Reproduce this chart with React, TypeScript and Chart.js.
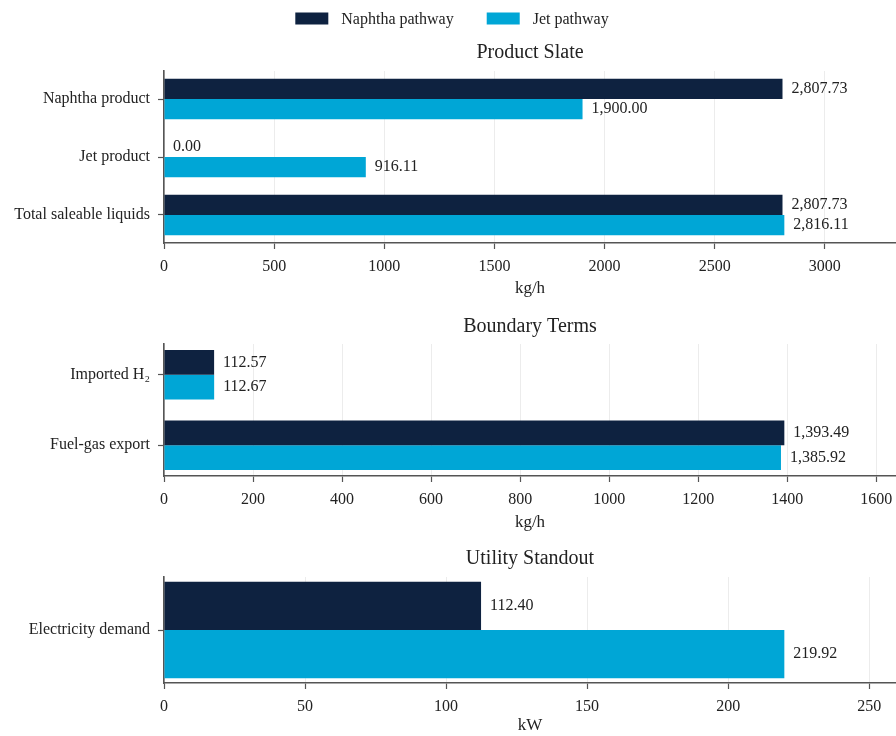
import React, { useEffect, useRef } from "react";
import { Chart, registerables } from "chart.js";

Chart.register(...registerables);

// ---------------- data ----------------
const seriesNames = ["Naphtha pathway", "Jet pathway"];
const seriesColors = ["#0e2240", "#00a6d6"];

const productCategories = ["Naphtha product", "Jet product", "Total saleable liquids"];
const productNaphtha = [2807.73, 0.0, 2807.73];
const productJet = [1900.0, 916.11, 2816.11];

const boundaryCategories = ["Imported H₂", "Fuel-gas export"];
const boundaryNaphtha = [112.57, 1393.49];
const boundaryJet = [112.67, 1385.92];

const utilityCategories = ["Electricity demand"];
const utilityNaphtha = [112.4];
const utilityJet = [219.92];

const panelTitles = ["Product Slate", "Boundary Terms", "Utility Standout"];
const panelUnits = ["kg/h", "kg/h", "kW"];
const panelSteps = [500, 200, 50];

// ---------------- styling / layout ----------------
const FONT = '"Liberation Serif", "Times New Roman", serif';
const TEXT = "#222222";
const AXIS = "#555555";
const GRID = "#ececec";

type Layout = {
  top: number;
  height: number;
  padTop: number;
  titlePad: { top: number; bottom: number };
  axisH: number;
  axisTitlePadBottom: number;
  legend: boolean;
};

const layouts: Layout[] = [
  { top: 0, height: 300, padTop: 37, titlePad: { top: 4, bottom: 6 }, axisH: 57, axisTitlePadBottom: 1, legend: true },
  { top: 300, height: 233, padTop: 11, titlePad: { top: 4, bottom: 5 }, axisH: 57, axisTitlePadBottom: 0, legend: false },
  { top: 533, height: 203, padTop: 10, titlePad: { top: 4, bottom: 6 }, axisH: 53, axisTitlePadBottom: 0, legend: false },
];

const fmt = (v: number) =>
  v.toLocaleString("en-US", { minimumFractionDigits: 2, maximumFractionDigits: 2 });

const valueLabels = {
  id: "valueLabels",
  afterDatasetsDraw(chart: any) {
    const ctx = chart.ctx;
    ctx.save();
    ctx.font = `16px ${FONT}`;
    ctx.fillStyle = TEXT;
    ctx.textAlign = "left";
    ctx.textBaseline = "middle";
    chart.data.datasets.forEach((ds: any, di: number) => {
      const meta = chart.getDatasetMeta(di);
      meta.data.forEach((el: any, i: number) => {
        const v = ds.data[i].x;
        ctx.fillText(fmt(v), el.x + 9, el.y);
      });
    });
    ctx.restore();
  },
};

const topLegend = {
  id: "topLegend",
  afterDraw(chart: any) {
    const opts = chart.options.plugins.topLegend;
    if (!opts || !opts.display) return;
    const ctx = chart.ctx;
    ctx.save();
    ctx.font = `16px ${FONT}`;
    const boxW = 33;
    const boxH = 12;
    const gapText = 13;
    const gapItem = 33;
    const items = chart.data.datasets.map((d: any) => ({
      text: d.label,
      color: d.backgroundColor,
      w: ctx.measureText(d.label).width,
    }));
    let total = 0;
    items.forEach((it: any, i: number) => {
      total += boxW + gapText + it.w + (i < items.length - 1 ? gapItem : 0);
    });
    let x = chart.width / 2 + 4 - total / 2;
    const cy = 18.5;
    items.forEach((it: any) => {
      ctx.fillStyle = it.color;
      ctx.fillRect(x, cy - boxH / 2, boxW, boxH);
      x += boxW + gapText;
      ctx.fillStyle = TEXT;
      ctx.textAlign = "left";
      ctx.textBaseline = "middle";
      ctx.fillText(it.text, x, cy + 1);
      x += it.w + gapItem;
    });
    ctx.restore();
  },
};

function buildConfig(
  idx: number,
  categories: string[],
  naphtha: number[],
  jet: number[]
): any {
  const lay = layouts[idx];
  const n = categories.length;
  const barUnits = 0.7; // two bars of 0.35 each
  const margin = 0.05 * (n - 1 + barUnits);
  const ext = barUnits / 2 + margin;
  const catPct = n > 1 ? barUnits : barUnits / (barUnits + 2 * margin);
  const maxVal = Math.max(...naphtha, ...jet) * 1.18;
  const step = panelSteps[idx];

  const mk = (vals: number[]) => vals.map((v, i) => ({ x: v, y: i }));

  return {
    type: "bar",
    data: {
      datasets: [
        {
          label: seriesNames[0],
          data: mk(naphtha),
          backgroundColor: seriesColors[0],
          borderWidth: 0,
        },
        {
          label: seriesNames[1],
          data: mk(jet),
          backgroundColor: seriesColors[1],
          borderWidth: 0,
        },
      ],
    },
    plugins: [valueLabels, topLegend],
    options: {
      indexAxis: "y",
      animation: false,
      responsive: false,
      maintainAspectRatio: false,
      devicePixelRatio: 1,
      categoryPercentage: catPct,
      barPercentage: 1.0,
      layout: { padding: { top: lay.padTop, left: 0, right: 0, bottom: 0 } },
      plugins: {
        legend: { display: false },
        tooltip: { enabled: false },
        topLegend: { display: lay.legend },
        title: {
          display: true,
          fullSize: false,
          text: panelTitles[idx],
          color: TEXT,
          font: { family: FONT, size: 20, weight: "normal" },
          padding: lay.titlePad,
        },
      },
      scales: {
        x: {
          type: "linear",
          position: "bottom",
          min: 0,
          max: maxVal,
          offset: false,
          grid: {
            color: GRID,
            lineWidth: 1,
            drawTicks: true,
            tickLength: 6,
            tickColor: AXIS,
            tickWidth: 1.2,
          },
          border: { display: true, color: AXIS, width: 1.6 },
          ticks: {
            color: TEXT,
            font: { family: FONT, size: 16 },
            padding: 8,
            maxRotation: 0,
            autoSkip: false,
            callback: (v: number) => String(v),
          },
          afterBuildTicks: (scale: any) => {
            const t: { value: number }[] = [];
            for (let v = 0; v <= scale.max + 1e-9; v += step) t.push({ value: v });
            scale.ticks = t;
          },
          title: {
            display: true,
            text: panelUnits[idx],
            color: TEXT,
            font: { family: FONT, size: 17 },
            padding: { top: 0, bottom: lay.axisTitlePadBottom },
          },
          afterFit: (scale: any) => {
            scale.height = lay.axisH;
            scale.paddingLeft = 0;
            scale.paddingRight = 0;
          },
        },
        y: {
          type: "linear",
          reverse: true,
          min: -ext,
          max: n - 1 + ext,
          offset: false,
          grid: {
            offset: false,
            drawOnChartArea: false,
            drawTicks: true,
            tickLength: 6,
            tickColor: AXIS,
            tickWidth: 1.2,
          },
          border: { display: true, color: AXIS, width: 1.6 },
          ticks: {
            autoSkip: false,
            color: TEXT,
            font: { family: FONT, size: 16 },
            padding: 8,
            callback: (v: number) => (Number.isInteger(v) && categories[v] ? categories[v] : ""),
          },
          afterBuildTicks: (scale: any) => {
            scale.ticks = categories.map((_, i) => ({ value: i }));
          },
          afterFit: (scale: any) => {
            scale.width = 164;
            scale.paddingTop = 0;
            scale.paddingBottom = 0;
          },
        },
      },
    },
  };
}

function Panel({ idx, categories, naphtha, jet }: { idx: number; categories: string[]; naphtha: number[]; jet: number[] }) {
  const ref = useRef<HTMLCanvasElement | null>(null);
  useEffect(() => {
    if (!ref.current) return;
    const chart = new Chart(ref.current, buildConfig(idx, categories, naphtha, jet));
    return () => chart.destroy();
  }, [idx, categories, naphtha, jet]);
  const lay = layouts[idx];
  return (
    <canvas
      ref={ref}
      width={896}
      height={lay.height}
      style={{ position: "absolute", left: 0, top: lay.top, width: 896, height: lay.height, display: "block" }}
    />
  );
}

export default function App() {
  return (
    <div
      style={{
        position: "absolute",
        left: 0,
        top: 0,
        width: 896,
        height: 736,
        overflow: "hidden",
        background: "#ffffff",
      }}
    >
      <Panel idx={0} categories={productCategories} naphtha={productNaphtha} jet={productJet} />
      <Panel idx={1} categories={boundaryCategories} naphtha={boundaryNaphtha} jet={boundaryJet} />
      <Panel idx={2} categories={utilityCategories} naphtha={utilityNaphtha} jet={utilityJet} />
    </div>
  );
}
